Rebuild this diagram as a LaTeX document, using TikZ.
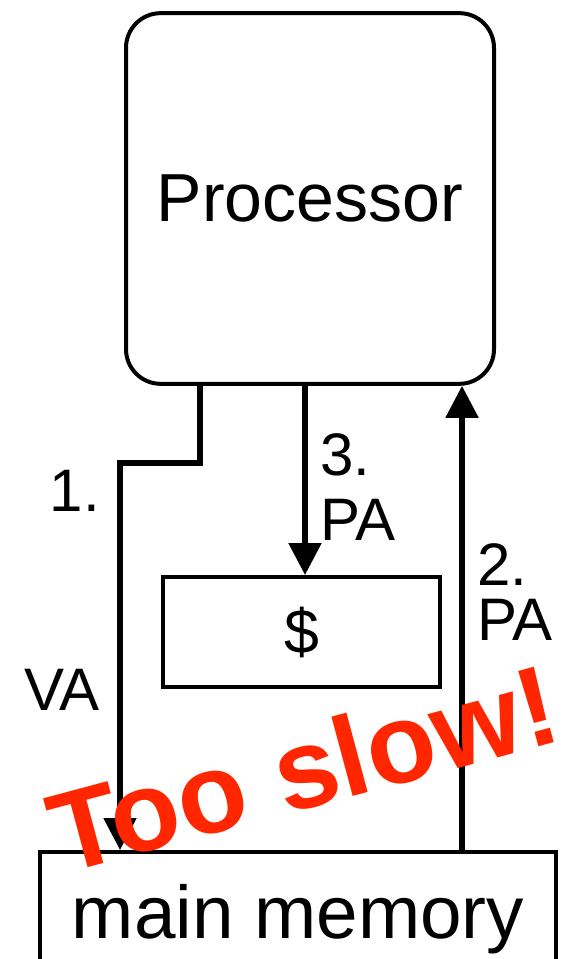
\documentclass[tikz,border=0pt]{standalone}
\usepackage{fontspec}
\setmainfont{Liberation Sans}
\usetikzlibrary{arrows.meta}
\definecolor{slowred}{RGB}{255,38,0}
\begin{document}
\begin{tikzpicture}[x=0.75pt,y=-0.75pt,
  box/.style={draw,line width=3pt,inner sep=0pt},
  conn/.style={line width=4pt,-{Triangle[length=24pt,width=24pt]}},
  lbl/.style={inner sep=0pt,font=\fontsize{45}{50}\selectfont},
  slow/.style={text=slowred,font=\fontsize{85}{90}\selectfont\bfseries,rotate=15,inner sep=0pt}]
\useasboundingbox (0,0) rectangle (564,959);
\clip (0,0) rectangle (564,959);
\node[box,rounded corners=26pt,minimum width=276pt,minimum height=278pt,
  font=\fontsize{51}{56}\selectfont] (proc) at (310,198.5) {\raisebox{-5pt}{Processor}};
\node[box,minimum width=207.75pt,minimum height=82.5pt,
  font=\fontsize{47}{50}\selectfont] (cache) at (301.5,632) {\$};
\node[box,minimum width=387pt,minimum height=100.5pt,
  font=\fontsize{56}{60}\selectfont] (mem) at (298,919) {main memory};
\coordinate (a1) at (200,463);
\coordinate (a2) at (120,463);
\coordinate (m) at (305,0);
\coordinate (r) at (462,0);
\draw[conn] (a1 |- proc.south) -- (a1) -- (a2) -- (a2 |- mem.north);
\draw[conn] (m |- proc.south) -- (m |- cache.north);
\draw[conn] (r |- mem.north) -- (r |- proc.south);
\node[lbl] (l1) at (75,491) {1.};
\node[lbl] (lva) at (62,690) {VA};
\node[lbl,anchor=west] (l3) at (320,455) {3.};
\node[lbl,anchor=west] (lpa3) at (320,520) {PA};
\node[lbl,anchor=west] (l2) at (477,565) {2.};
\node[lbl,anchor=west] (lpa2) at (477,620) {PA};
\node[slow] (slow) at (303,768) {Too slow!};
\end{tikzpicture}
\end{document}
